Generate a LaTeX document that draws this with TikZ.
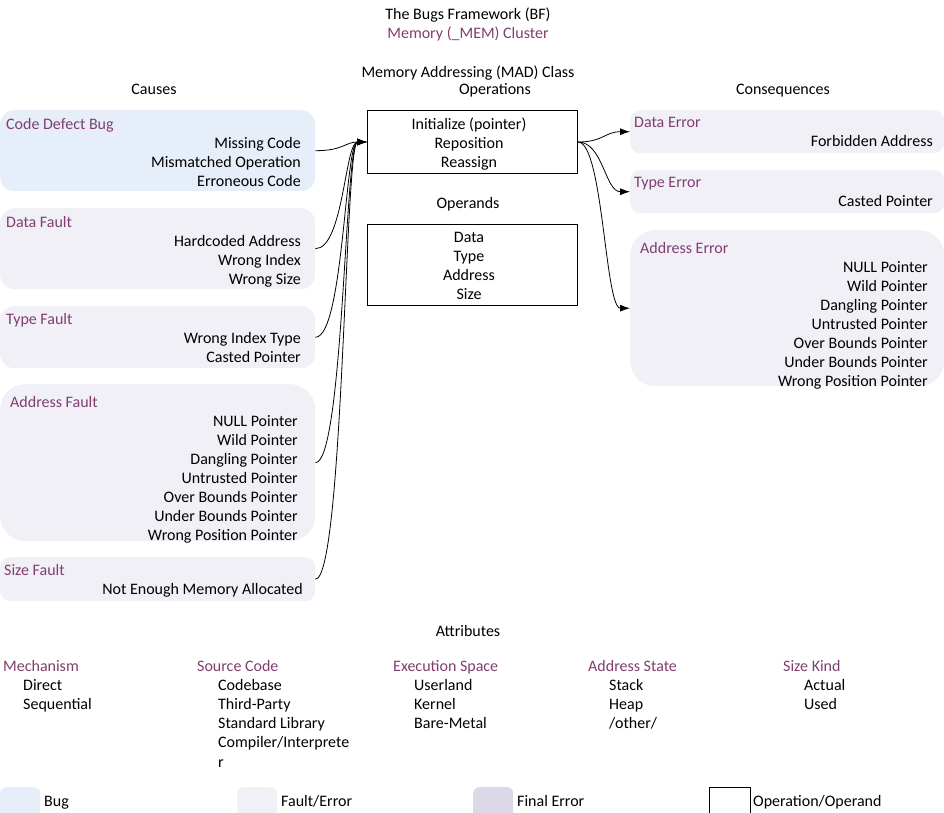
\documentclass[tikz,border=0pt]{standalone}
\usepackage{fontspec}
\setmainfont{Carlito}
\usepackage{xcolor}
\usetikzlibrary{positioning, arrows.meta}
\definecolor{bugfill}{RGB}{230,238,250}
\definecolor{faultfill}{RGB}{242,240,247}
\definecolor{finalfill}{RGB}{221,216,232}
\definecolor{bfpurple}{RGB}{128,62,112}
\newcommand{\bffont}{\fontsize{16pt}{19pt}\selectfont}
\tikzset{%
    % Boxes of the causes and consequences
    bug/.style    = {rectangle, rounded corners=14pt, fill=bugfill,
    minimum width=315pt, anchor=north west, inner sep=0pt},
    fault/.style  = {bug, fill=faultfill},
    opbox/.style  = {draw, line width=1pt, rectangle, minimum width=210pt,
    anchor=north west, inner sep=0pt},
    % Texts
    txt/.style    = {inner sep=0pt, text height=11pt, text depth=3pt},
    head/.style   = {txt, text=bfpurple, anchor=west},
    entry/.style  = {txt, anchor=east},
    attrib/.style = {txt, anchor=west},
    % Connectors
    flow/.style   = {-{Latex[length=10pt,width=7pt]}, line width=0.8pt}
}
\begin{document}
\begin{tikzpicture}[x=1pt, y=-1pt, every node/.style={font=\bffont}]
	\useasboundingbox (0,0) rectangle (944,812);

	% header
	\node[txt] (bf) at (468,15) {The Bugs Framework (BF)};
	\node[txt, text=bfpurple] (mem) at (468,34) {Memory (\_MEM) Cluster};
	\node[txt] (mad) at (468,73) {Memory Addressing (MAD) Class};
	\node[txt] (opstitle) at (495,90) {Operations};
	\node[txt] (causes) at (154,90) {Causes};
	\node[txt] (conseq) at (783,90) {Consequences};

	% operations and operands
	\node[opbox, minimum height=63pt] (ops) at (367,110) {};
	\foreach \t [count=\i] in {Initialize (pointer), Reposition, Reassign}
		\node[txt] at (469,106+19*\i) {\t};
	\node[txt] (operands) at (468,204) {Operands};
	\node[opbox, minimum height=81pt] (opd) at (367,224) {};
	\foreach \t [count=\i] in {Data, Type, Address, Size}
		\node[txt] at (469,219+19*\i) {\t};

	% causes
	\node[bug, minimum height=81pt] (cdb) at (0,110) {};
	\node[head] at (6,125) {Code Defect Bug};
	\foreach \t [count=\i] in {Missing Code, Mismatched Operation, Erroneous Code}
		\node[entry] at (301,125+19.3*\i) {\t};

	\node[fault, minimum height=81pt] (df) at (0,208) {};
	\node[head] at (6,223) {Data Fault};
	\foreach \t [count=\i] in {Hardcoded Address, Wrong Index, Wrong Size}
		\node[entry] at (301,223+19.3*\i) {\t};

	\node[fault, minimum height=62pt] (tf) at (0,306) {};
	\node[head] at (6,320) {Type Fault};
	\foreach \t [count=\i] in {Wrong Index Type, Casted Pointer}
		\node[entry] at (301,320+19.3*\i) {\t};

	\node[fault, minimum height=157pt, rounded corners=25pt] (af) at (0,384) {};
	\node[head] at (10,403) {Address Fault};
	\foreach \t [count=\i] in {NULL Pointer, Wild Pointer, Dangling Pointer,
		Untrusted Pointer, Over Bounds Pointer, Under Bounds Pointer,
		Wrong Position Pointer}
		\node[entry] at (298,403+19.1*\i) {\t};

	\node[fault, minimum height=44pt, rounded corners=10pt] (sf) at (0,557) {};
	\node[head] at (4,571) {Size Fault};
	\node[entry] at (303,590) {Not Enough Memory Allocated};

	% consequences
	\node[fault, minimum width=314pt, minimum height=43pt, rounded corners=10pt] (de) at (630,110) {};
	\node[head] at (634,123) {Data Error};
	\node[entry] at (933,142) {Forbidden Address};

	\node[fault, minimum width=314pt, minimum height=43pt, rounded corners=10pt] (te) at (630,170) {};
	\node[head] at (634,183) {Type Error};
	\node[entry] at (933,202) {Casted Pointer};

	\node[fault, minimum width=314pt, minimum height=156pt, rounded corners=25pt] (ae) at (630,230) {};
	\node[head] at (640,249) {Address Error};
	\foreach \t [count=\i] in {NULL Pointer, Wild Pointer, Dangling Pointer,
		Untrusted Pointer, Over Bounds Pointer, Under Bounds Pointer,
		Wrong Position Pointer}
		\node[entry] at (928,249+19.1*\i) {\t};

	% connectors
	\foreach \c in {cdb, df, tf, af, sf}
		\draw[flow] (\c.east) .. controls +(28,0) and +(-22,0) .. (ops.west);
	\foreach \c in {de, te, ae}
		\draw[flow] (ops.east) .. controls +(25,0) and +(-25,0) .. (\c.west);

	% attributes
	\node[txt] (attr) at (468,632) {Attributes};
	\node[head] (mech) at (3,667) {Mechanism};
	\foreach \t [count=\i] in {Direct, Sequential}
		\node[attrib] at (23,667+19.2*\i) {\t};
	\node[head] (src) at (197,667) {Source Code};
	\foreach \t [count=\i] in {Codebase, Third-Party, Standard Library,
		Compiler/Interprete, r}
		\node[attrib] at (218,667+19.2*\i) {\t};
	\node[head] (exe) at (393,667) {Execution Space};
	\foreach \t [count=\i] in {Userland, Kernel, Bare-Metal}
		\node[attrib] at (414,667+19.2*\i) {\t};
	\node[head] (ast) at (588,667) {Address State};
	\foreach \t [count=\i] in {Stack, Heap, /other/}
		\node[attrib] at (609,667+19.2*\i) {\t};
	\node[head] (szk) at (783,667) {Size Kind};
	\foreach \t [count=\i] in {Actual, Used}
		\node[attrib] at (804,667+19.2*\i) {\t};

	% legend
	\node[bug, minimum width=40pt, minimum height=32pt, rounded corners=6pt] (lbug) at (0,787) {};
	\node[attrib] at (44,802) {Bug};
	\node[fault, minimum width=40pt, minimum height=32pt, rounded corners=6pt] (lfault) at (237,787) {};
	\node[attrib] at (281,802) {Fault/Error};
	\node[fault, fill=finalfill, minimum width=40pt, minimum height=32pt, rounded corners=6pt] (lfinal) at (473,787) {};
	\node[attrib] at (517,802) {Final Error};
	\node[opbox, minimum width=41pt, minimum height=32pt] (lop) at (709,787) {};
	\node[attrib] at (753,802) {Operation/Operand};
\end{tikzpicture}
\end{document}
